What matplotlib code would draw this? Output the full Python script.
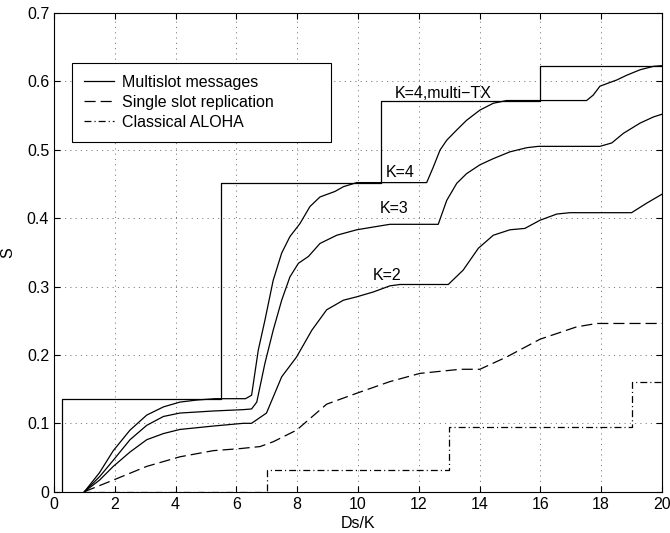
import matplotlib
matplotlib.use('agg')
import matplotlib.pyplot as plt

plt.rcParams['font.family'] = ['Liberation Sans', 'DejaVu Sans']
plt.rcParams['lines.scale_dashes'] = False

# step curve, K=4 with multiple transmissions
multi_x = [0.25, 0.25, 5.5, 5.5, 10.75, 10.75, 16.0, 16.0, 20.0]
multi_y = [0.0, 0.136, 0.136, 0.452, 0.452, 0.572, 0.572, 0.623, 0.623]

k4_x = [1.0, 1.5, 1.95, 2.5, 3.05, 3.6, 4.14, 4.69, 5.3, 6.3, 6.5, 6.72, 6.94, 7.21, 7.49,
        7.76, 8.09, 8.42, 8.75, 9.24, 9.52, 9.96, 12.26, 12.48, 12.7, 12.92, 13.25, 13.57,
        14.01, 14.45, 14.89, 17.52, 17.74, 17.96, 18.51, 18.84, 19.28, 19.72, 20.0]
k4_y = [0.0, 0.028, 0.060, 0.090, 0.112, 0.124, 0.131, 0.134, 0.136, 0.136, 0.141, 0.207,
        0.251, 0.309, 0.349, 0.373, 0.392, 0.417, 0.431, 0.439, 0.446, 0.452, 0.452, 0.475,
        0.4996, 0.514, 0.529, 0.543, 0.558, 0.568, 0.572, 0.572, 0.580, 0.593, 0.602, 0.609,
        0.617, 0.622, 0.623]

k3_x = [1.0, 1.5, 1.95, 2.5, 3.05, 3.6, 4.14, 5.24, 6.23, 6.5, 6.67, 6.94, 7.21, 7.49, 7.76,
        8.04, 8.37, 8.75, 9.3, 9.96, 10.5, 11.05, 12.64, 12.92, 13.25, 13.57, 14.01, 14.45,
        15.0, 15.55, 15.93, 17.96, 18.35, 18.73, 19.28, 19.72, 20.0]
k3_y = [0.0, 0.022, 0.046, 0.076, 0.097, 0.110, 0.115, 0.118, 0.120, 0.121, 0.131, 0.188,
        0.236, 0.280, 0.314, 0.334, 0.344, 0.363, 0.375, 0.383, 0.387, 0.391, 0.391, 0.426,
        0.451, 0.465, 0.478, 0.487, 0.497, 0.503, 0.505, 0.505, 0.510, 0.524, 0.539, 0.548,
        0.552]

k2_x = [1.0, 1.5, 1.95, 2.5, 3.05, 3.6, 4.14, 5.24, 6.23, 6.5, 6.99, 7.49, 7.98, 8.48, 8.97,
        9.52, 9.96, 10.5, 11.05, 11.38, 12.97, 13.46, 13.96, 14.45, 15.0, 15.49, 15.99, 16.54,
        16.97, 19.0, 19.5, 20.0]
k2_y = [0.0, 0.017, 0.037, 0.058, 0.076, 0.085, 0.091, 0.096, 0.100, 0.100, 0.115, 0.168,
        0.197, 0.236, 0.266, 0.280, 0.285, 0.292, 0.301, 0.303, 0.303, 0.324, 0.356, 0.375,
        0.383, 0.385, 0.397, 0.406, 0.408, 0.408, 0.422, 0.435]

rep_x = [1.0, 1.95, 3.05, 4.14, 5.24, 6.12, 6.78, 7.21, 7.98, 8.97, 9.96, 11.05, 12.04,
         13.36, 14.01, 14.89, 15.99, 17.19, 17.85, 20.0]
rep_y = [0.0, 0.017, 0.037, 0.051, 0.060, 0.063, 0.066, 0.073, 0.090, 0.128, 0.144, 0.161,
         0.173, 0.179, 0.179, 0.197, 0.223, 0.241, 0.246, 0.246]

aloha_x = [1.0, 7.0, 7.0, 13.0, 13.0, 19.0, 19.0, 20.0]
aloha_y = [0.0, 0.0, 0.031, 0.031, 0.095, 0.095, 0.160, 0.160]

fig = plt.figure(figsize=(6.7, 5.33), dpi=100)
ax = fig.add_axes([0.0806, 0.0775, 0.9074, 0.8981])

lw = 0.9
ax.plot(multi_x, multi_y, color='black', lw=lw, label='Multislot messages')
ax.plot(rep_x, rep_y, color='black', lw=lw, dashes=(8, 3.6), label='Single slot replication')
ax.plot(aloha_x, aloha_y, color='black', lw=lw, dashes=(5, 2.2, 0.8, 2.2), label='Classical ALOHA')
ax.plot(k4_x, k4_y, color='black', lw=lw)
ax.plot(k3_x, k3_y, color='black', lw=lw)
ax.plot(k2_x, k2_y, color='black', lw=lw)

fs = 11.5
ax.text(11.2, 0.575, 'K=4,multi\u2212TX', fontsize=fs, va='baseline')
ax.text(10.9, 0.460, 'K=4', fontsize=fs, va='baseline')
ax.text(10.7, 0.407, 'K=3', fontsize=fs, va='baseline')
ax.text(10.5, 0.310, 'K=2', fontsize=fs, va='baseline')

ax.set_xlim(0, 20)
ax.set_ylim(0, 0.7)
ax.set_xticks(range(0, 21, 2))
ax.set_yticks([0, 0.1, 0.2, 0.3, 0.4, 0.5, 0.6, 0.7])
ax.set_yticklabels(['0', '0.1', '0.2', '0.3', '0.4', '0.5', '0.6', '0.7'])
ax.tick_params(direction='in', top=True, right=True, labelsize=fs, length=4, width=0.8)
ax.grid(True, color='black', linestyle=(0, (0.8, 3)), linewidth=0.6, alpha=0.6)
ax.set_xlabel('Ds/K', fontsize=fs, labelpad=3)
ax.set_ylabel('S', fontsize=fs, labelpad=8)
for s in ax.spines.values():
    s.set_linewidth(0.8)

leg = ax.legend(loc='upper left', bbox_to_anchor=(0.0296, 0.737, 0.426, 0.1585), mode='expand',
                borderaxespad=0, fontsize=fs, fancybox=False, framealpha=1, edgecolor='black',
                handlelength=1.9, handletextpad=0.45, labelspacing=0.3, borderpad=0.75)
leg.get_frame().set_linewidth(0.8)

plt.savefig('out.png', dpi=100)
